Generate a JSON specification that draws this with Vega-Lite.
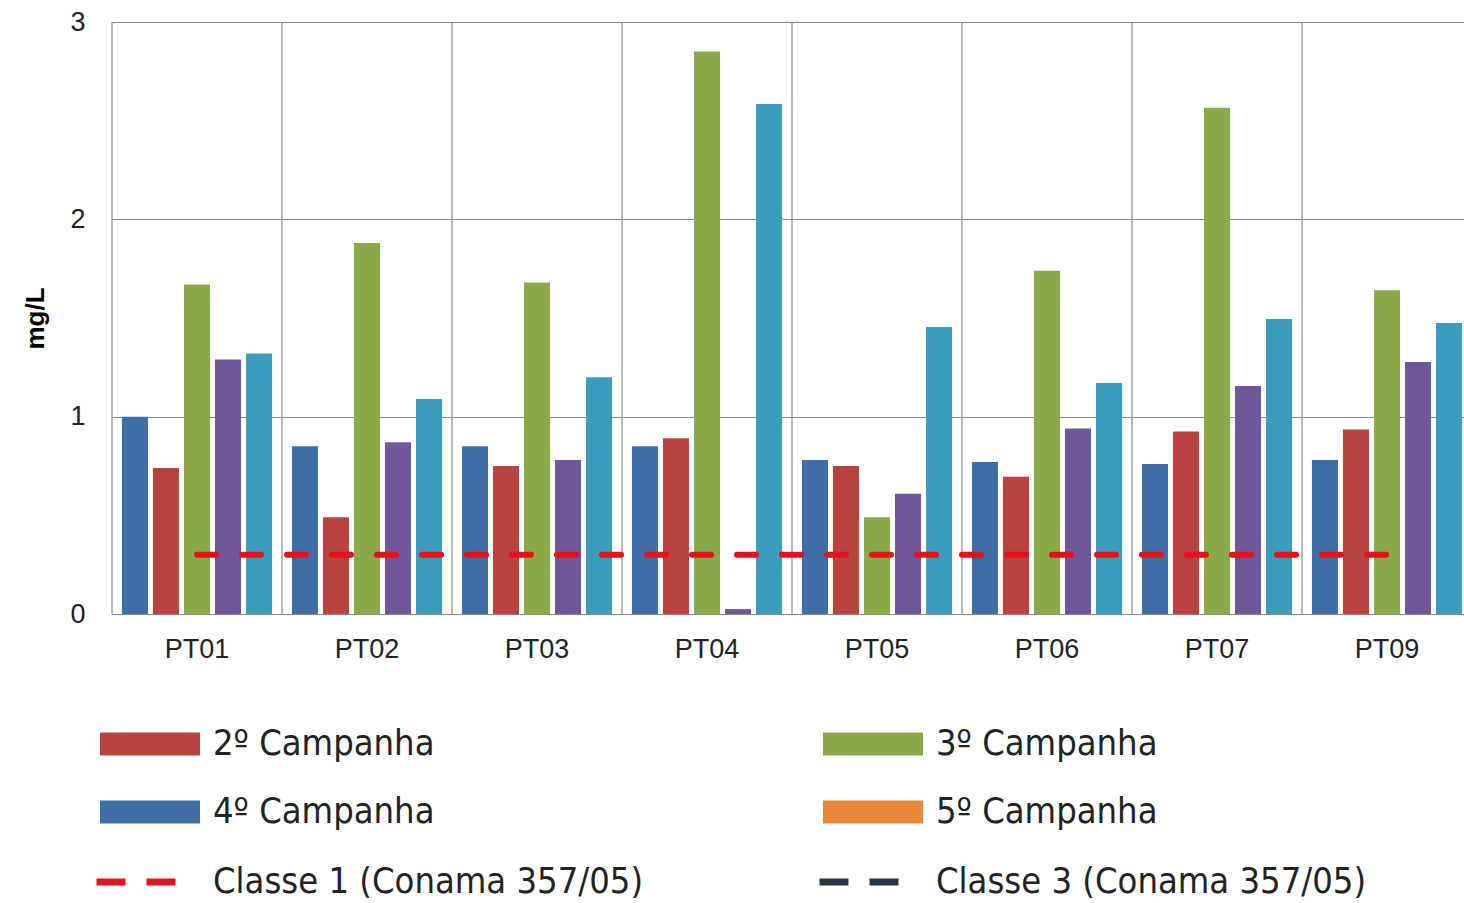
{
  "$schema": "https://vega.github.io/schema/vega-lite/v6.json",
  "width": 1352,
  "height": 592,
  "autosize": {"type": "none"},
  "padding": {"left": 112, "top": 22, "right": 0, "bottom": 289},
  "background": "white",
  "config": {"view": {"stroke": null}, "font": "Liberation Sans"},
  "datasets": {
    "bars": [
      {"site": "PT01", "campanha": "4º Campanha", "valor": 1.0},
      {"site": "PT01", "campanha": "2º Campanha", "valor": 0.74},
      {"site": "PT01", "campanha": "3º Campanha", "valor": 1.67},
      {"site": "PT01", "campanha": "Série 4", "valor": 1.29},
      {"site": "PT01", "campanha": "Série 5", "valor": 1.32},
      {"site": "PT02", "campanha": "4º Campanha", "valor": 0.85},
      {"site": "PT02", "campanha": "2º Campanha", "valor": 0.49},
      {"site": "PT02", "campanha": "3º Campanha", "valor": 1.88},
      {"site": "PT02", "campanha": "Série 4", "valor": 0.87},
      {"site": "PT02", "campanha": "Série 5", "valor": 1.09},
      {"site": "PT03", "campanha": "4º Campanha", "valor": 0.85},
      {"site": "PT03", "campanha": "2º Campanha", "valor": 0.75},
      {"site": "PT03", "campanha": "3º Campanha", "valor": 1.68},
      {"site": "PT03", "campanha": "Série 4", "valor": 0.78},
      {"site": "PT03", "campanha": "Série 5", "valor": 1.2},
      {"site": "PT04", "campanha": "4º Campanha", "valor": 0.85},
      {"site": "PT04", "campanha": "2º Campanha", "valor": 0.89},
      {"site": "PT04", "campanha": "3º Campanha", "valor": 2.85},
      {"site": "PT04", "campanha": "Série 4", "valor": 0.025},
      {"site": "PT04", "campanha": "Série 5", "valor": 2.585},
      {"site": "PT05", "campanha": "4º Campanha", "valor": 0.78},
      {"site": "PT05", "campanha": "2º Campanha", "valor": 0.75},
      {"site": "PT05", "campanha": "3º Campanha", "valor": 0.49},
      {"site": "PT05", "campanha": "Série 4", "valor": 0.61},
      {"site": "PT05", "campanha": "Série 5", "valor": 1.455},
      {"site": "PT06", "campanha": "4º Campanha", "valor": 0.77},
      {"site": "PT06", "campanha": "2º Campanha", "valor": 0.695},
      {"site": "PT06", "campanha": "3º Campanha", "valor": 1.74},
      {"site": "PT06", "campanha": "Série 4", "valor": 0.94},
      {"site": "PT06", "campanha": "Série 5", "valor": 1.17},
      {"site": "PT07", "campanha": "4º Campanha", "valor": 0.76},
      {"site": "PT07", "campanha": "2º Campanha", "valor": 0.925},
      {"site": "PT07", "campanha": "3º Campanha", "valor": 2.565},
      {"site": "PT07", "campanha": "Série 4", "valor": 1.155},
      {"site": "PT07", "campanha": "Série 5", "valor": 1.495},
      {"site": "PT09", "campanha": "4º Campanha", "valor": 0.78},
      {"site": "PT09", "campanha": "2º Campanha", "valor": 0.935},
      {"site": "PT09", "campanha": "3º Campanha", "valor": 1.64},
      {"site": "PT09", "campanha": "Série 4", "valor": 1.277},
      {"site": "PT09", "campanha": "Série 5", "valor": 1.475}
    ],
    "limits": [
      {"site": "PT01", "campanha": "Classe 1 (Conama 357/05)", "valor": 0.3},
      {"site": "PT02", "campanha": "Classe 1 (Conama 357/05)", "valor": 0.3},
      {"site": "PT03", "campanha": "Classe 1 (Conama 357/05)", "valor": 0.3},
      {"site": "PT04", "campanha": "Classe 1 (Conama 357/05)", "valor": 0.3},
      {"site": "PT05", "campanha": "Classe 1 (Conama 357/05)", "valor": 0.3},
      {"site": "PT06", "campanha": "Classe 1 (Conama 357/05)", "valor": 0.3},
      {"site": "PT07", "campanha": "Classe 1 (Conama 357/05)", "valor": 0.3},
      {"site": "PT09", "campanha": "Classe 1 (Conama 357/05)", "valor": 0.3}
    ]
  },
  "encoding": {
    "x": {
      "field": "site",
      "type": "nominal",
      "sort": null,
      "scale": {
        "domain": ["PT01", "PT02", "PT03", "PT04", "PT05", "PT06", "PT07", "PT09"],
        "range": [0, 1360],
        "paddingInner": 0,
        "paddingOuter": 0
      },
      "axis": {
        "title": null,
        "labelFont": "Liberation Sans",
        "labelFontSize": 27,
        "labelColor": "#222222",
        "labelPadding": 22,
        "labelAngle": 0,
        "ticks": false,
        "domain": true,
        "domainColor": "#8a8a8a",
        "domainWidth": 1.2,
        "grid": false
      }
    }
  },
  "layer": [
    {
      "data": {"name": "limits"},
      "mark": {"type": "rule", "strokeWidth": 1.2, "color": "#8a8a8a"},
      "encoding": {
        "x": {"field": "site", "type": "nominal", "sort": null, "bandPosition": 0}
      }
    },
    {
      "data": {"name": "bars"},
      "mark": {"type": "bar"},
      "encoding": {
        "xOffset": {
          "field": "campanha",
          "type": "nominal",
          "sort": ["4º Campanha", "2º Campanha", "3º Campanha", "Série 4", "Série 5"],
          "scale": {"paddingInner": 0.16, "paddingOuter": 0.32}
        },
        "color": {
          "field": "campanha",
          "type": "nominal",
          "scale": {
            "domain": ["4º Campanha", "2º Campanha", "3º Campanha", "Série 4", "Série 5", "5º Campanha"],
            "range": ["#3f6ea7", "#b8433f", "#8aaa4a", "#71579a", "#3c9cbc", "#e8873a"]
          },
          "legend": {
            "orient": "none",
            "legendX": -12,
            "legendY": 672,
            "columns": 2,
            "title": null,
            "padding": 0,
            "values": ["2º Campanha", "4º Campanha", "3º Campanha", "5º Campanha"],
            "labelFont": "DejaVu Sans Condensed",
            "labelFontSize": 36,
            "labelColor": "#222222",
            "labelLimit": 1000,
            "symbolType": "M-1,-0.23H1V0.23H-1Z",
            "symbolSize": 10000,
            "symbolStrokeWidth": 0,
            "symbolOpacity": 1,
            "labelOffset": 13,
            "rowPadding": 0,
            "columnPadding": 388
          }
        },
        "y": {
          "field": "valor",
          "type": "quantitative",
          "scale": {"domain": [0, 3]},
          "axis": {
            "title": "mg/L",
            "titleFont": "Liberation Sans",
            "titleFontSize": 26,
            "titleFontWeight": "bold",
            "titleColor": "#000000",
            "titleX": -77,
            "titleY": 296,
            "titleAngle": -90,
            "titleAlign": "center",
            "titleBaseline": "middle",
            "values": [0, 1, 2, 3],
            "labelFont": "Liberation Sans",
            "labelFontSize": 27,
            "labelColor": "#222222",
            "labelPadding": 27,
            "ticks": false,
            "domain": false,
            "grid": true,
            "gridColor": "#8a8a8a",
            "gridWidth": 1.2
          }
        }
      }
    },
    {
      "data": {"name": "limits"},
      "mark": {"type": "line", "strokeDash": [19, 26], "strokeWidth": 6, "strokeCap": "round"},
      "encoding": {
        "stroke": {
          "field": "campanha",
          "type": "nominal",
          "scale": {
            "domain": ["Classe 1 (Conama 357/05)", "Classe 3 (Conama 357/05)"],
            "range": ["#e3121b", "#243545"]
          },
          "legend": {
            "orient": "none",
            "legendX": -19,
            "legendY": 817,
            "columns": 2,
            "title": null,
            "padding": 0,
            "values": ["Classe 1 (Conama 357/05)", "Classe 3 (Conama 357/05)"],
            "labelFont": "DejaVu Sans Condensed",
            "labelFontSize": 36,
            "labelColor": "#222222",
            "labelLimit": 1000,
            "symbolType": "stroke",
            "symbolSize": 6241,
            "symbolStrokeWidth": 7,
            "symbolDash": [29, 21],
            "symbolOpacity": 1,
            "labelOffset": 34,
            "rowPadding": 0,
            "columnPadding": 161
          }
        },
        "y": {
          "field": "valor",
          "type": "quantitative",
          "scale": {"domain": [0, 3]},
          "axis": {
            "title": "mg/L",
            "titleFont": "Liberation Sans",
            "titleFontSize": 26,
            "titleFontWeight": "bold",
            "titleColor": "#000000",
            "titleX": -77,
            "titleY": 296,
            "titleAngle": -90,
            "titleAlign": "center",
            "titleBaseline": "middle",
            "values": [0, 1, 2, 3],
            "labelFont": "Liberation Sans",
            "labelFontSize": 27,
            "labelColor": "#222222",
            "labelPadding": 27,
            "ticks": false,
            "domain": false,
            "grid": true,
            "gridColor": "#8a8a8a",
            "gridWidth": 1.2
          }
        }
      }
    }
  ]
}
